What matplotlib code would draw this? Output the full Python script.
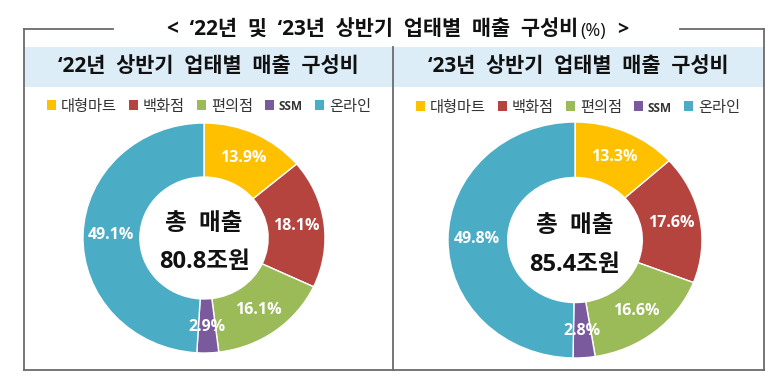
import numpy as np
import matplotlib
matplotlib.use("Agg")
import matplotlib.pyplot as plt
from matplotlib.patches import Rectangle
from matplotlib.lines import Line2D

plt.rcParams['font.family'] = ['Open Sans', 'Noto Sans CJK KR', 'DejaVu Sans']

# ---- data ----
categories = ['대형마트', '백화점', '편의점', 'SSM', '온라인']
colors = ['#FFC000', '#B5443F', '#9BBB59', '#7A5A9C', '#4BACC6']
values_22 = [13.9, 18.1, 16.1, 2.9, 49.1]
values_23 = [13.3, 17.6, 16.6, 2.8, 49.8]
total_22 = '80.8조원'
total_23 = '85.4조원'
center_label = '총  매출'
panel_titles = ['‘22년  상반기  업태별  매출  구성비', '‘23년  상반기  업태별  매출  구성비']
main_title = '<  ‘22년  및  ‘23년  상반기  업태별  매출  구성비'

W, H = 780, 389
fig = plt.figure(figsize=(W / 100, H / 100), dpi=100)
fig.patch.set_facecolor('white')


def fx(x):
    return x / W


def fy(y):
    return 1 - y / H


# ---- frame ----
frame_c = '#6b6b6b'
header = Rectangle((fx(24), fy(87)), fx(764) - fx(24), fy(47) - fy(87),
                   transform=fig.transFigure, facecolor='#DCEDF8', edgecolor='none', zorder=0)
fig.add_artist(header)
segs = [((24, 29), (113, 29)), ((680, 29), (764, 29)),
        ((24, 29), (24, 370)), ((764, 29), (764, 370)),
        ((24, 370), (764, 370)), ((393, 47), (393, 370))]
for (x0, y0), (x1, y1) in segs:
    fig.add_artist(Line2D([fx(x0), fx(x1)], [fy(y0), fy(y1)], transform=fig.transFigure,
                          color=frame_c, lw=1.3, zorder=1))

# ---- titles ----
fig.text(fx(578), fy(30), main_title, ha='right', va='center', fontsize=15,
         fontweight='bold', color='#111111')
fig.text(fx(580), fy(31), '(%)', ha='left', va='center', fontsize=13,
         fontweight='normal', color='#111111')
fig.text(fx(617), fy(30), '>', ha='left', va='center', fontsize=14,
         fontweight='bold', color='#111111')

for cx, t in zip([208, 578], panel_titles):
    fig.text(fx(cx), fy(67), t, ha='center', va='center', fontsize=15,
             fontweight='bold', color='#111111')


# ---- donuts ----
def donut(cx, cy, rx, ry, vals, total, leg_x0, leg_x1, leg_y):
    ax = fig.add_axes([fx(cx - rx), fy(cy + ry), (2 * rx) / W, (2 * ry) / H])
    wedges, _ = ax.pie(vals, colors=colors, startangle=90, counterclock=False,
                       radius=1, wedgeprops=dict(width=0.47, edgecolor='white', linewidth=1))
    ax.set_aspect('auto')
    ax.set_xlim(-1, 1)
    ax.set_ylim(-1, 1)
    ax.axis('off')
    for w, v in zip(wedges, vals):
        ang = np.deg2rad((w.theta1 + w.theta2) / 2)
        r = 0.77
        ax.text(r * np.cos(ang), r * np.sin(ang), f'{v}%', ha='center', va='center',
                fontsize=11.5, fontweight='bold', color='white')
    ax.text(0, 0.12, center_label, ha='center', va='center', fontsize=17,
            fontweight='bold', color='#111111')
    ax.text(0, -0.21, total, ha='center', va='center', fontsize=17,
            fontweight='bold', color='#111111')
    handles = [Rectangle((0, 0), 1, 1, facecolor=c, edgecolor='none') for c in colors]
    leg = fig.legend(handles, categories, loc='center',
                     bbox_to_anchor=(fx((leg_x0 + leg_x1) / 2), fy(leg_y)),
                     ncol=5, frameon=False, fontsize=11, handlelength=0.6,
                     handleheight=0.6, handletextpad=0.3, columnspacing=0.8,
                     labelcolor='#333333')
    for txt in leg.get_texts():
        if txt.get_text() == 'SSM':
            txt.set_fontsize(8.5)
            txt.set_fontweight('bold')
    return ax


donut(204, 238, 121, 115, values_22, total_22, 54, 364, 107)
donut(575, 240, 127, 118, values_23, total_23, 412, 744, 108)

fig.savefig('out.png', dpi=100, facecolor='white')
